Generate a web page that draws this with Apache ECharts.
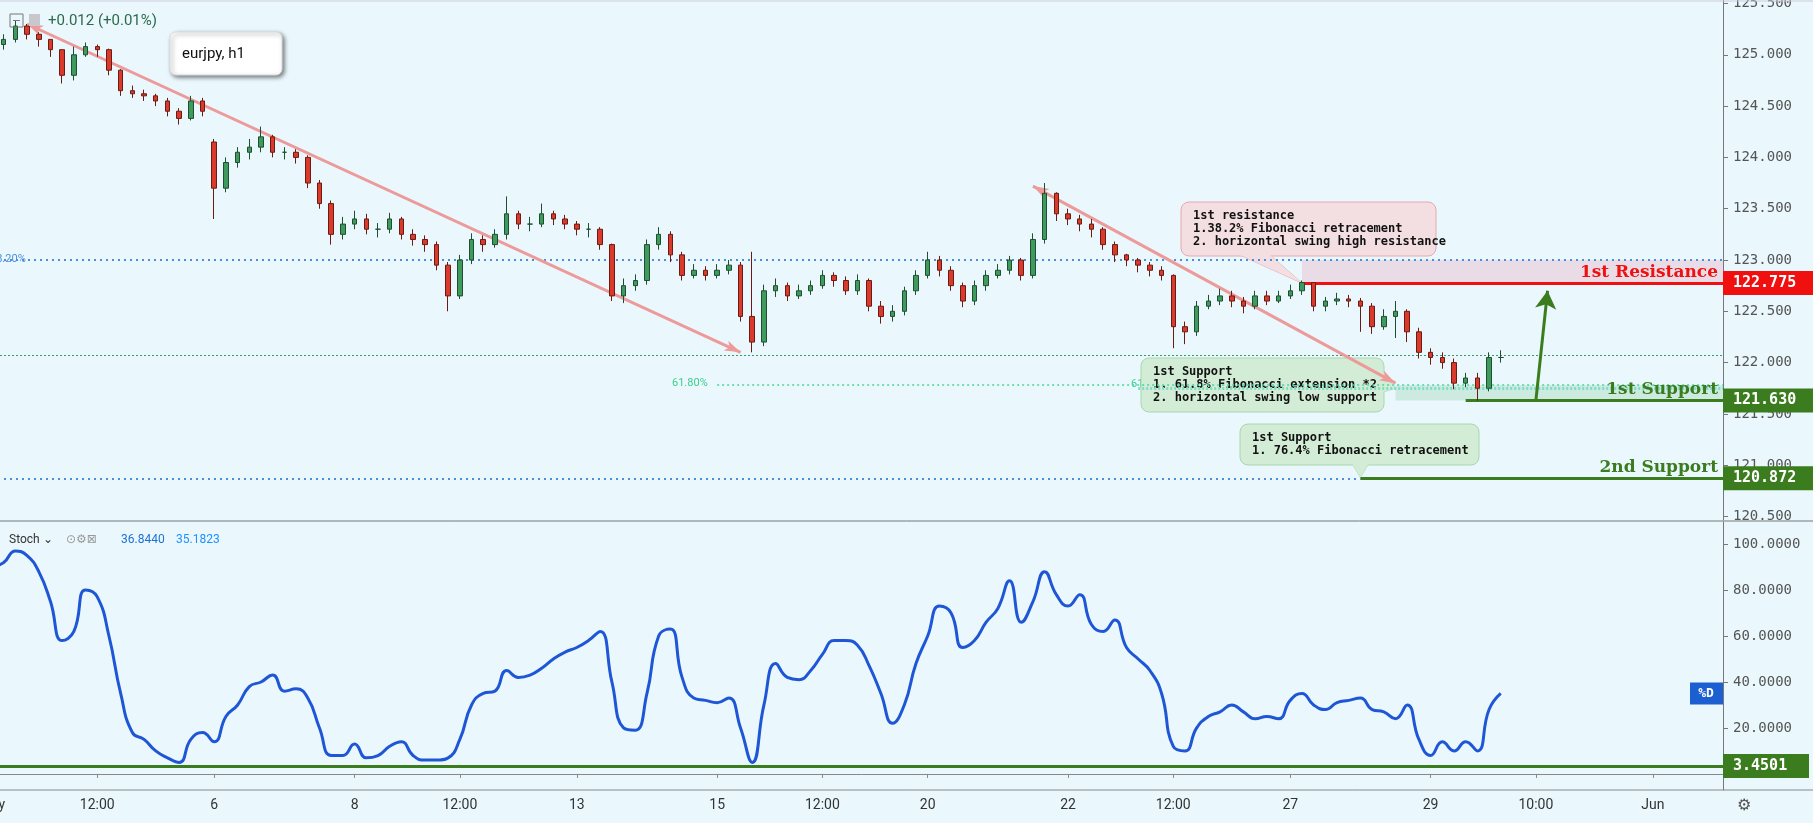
<!DOCTYPE html>
<html><head><meta charset="utf-8">
<script src="https://cdn.jsdelivr.net/npm/echarts@6/dist/echarts.min.js"></script>
<style>html,body{margin:0;padding:0;background:#eaf8fd}#c{width:1813px;height:823px}</style>
</head><body><div id="c"></div>
<script>
const closes=[125.10,125.15,125.28,125.20,125.15,125.05,124.80,125.00,125.08,125.05,124.85,124.65,124.62,124.60,124.55,124.45,124.38,124.55,124.45,123.70,
123.95,124.05,124.10,124.20,124.05,124.05,124.00,123.75,123.55,123.25,123.35,123.40,123.30,123.30,123.40,123.25,123.20,123.15,122.95,122.65,
123.00,123.20,123.15,123.25,123.45,123.35,123.35,123.45,123.40,123.35,123.30,123.30,123.15,122.65,122.75,122.80,123.15,123.25,123.05,122.85,
122.90,122.85,122.90,122.95,122.45,122.20,122.70,122.75,122.65,122.70,122.75,122.85,122.80,122.70,122.80,122.55,122.45,122.50,122.70,122.85,
123.00,122.90,122.75,122.60,122.75,122.85,122.90,123.00,122.85,123.20,123.65,123.45,123.40,123.35,123.30,123.15,123.05,123.00,122.95,122.90,
122.85,122.35,122.30,122.55,122.60,122.65,122.60,122.55,122.65,122.60,122.65,122.70,122.78,122.55,122.60,122.62,122.60,122.55,122.35,122.45,
122.50,122.30,122.10,122.05,122.00,121.80,121.85,121.75,122.05,122.05];
const opens=[125.05].concat(closes.slice(0,-1));
opens[19]=124.15;
const highs=[125.18,125.20,125.33,125.30,125.22,125.15,125.05,125.08,125.12,125.10,125.06,124.86,124.70,124.66,124.62,124.58,124.48,124.60,124.58,124.18,
124.00,124.10,124.18,124.30,124.22,124.10,124.08,124.02,123.78,123.58,123.42,123.48,123.45,123.36,123.46,123.42,123.30,123.24,123.18,122.98,
123.05,123.26,123.24,123.30,123.62,123.48,123.42,123.55,123.48,123.44,123.38,123.36,123.32,123.16,122.82,122.86,123.20,123.32,123.28,123.08,
122.96,122.94,122.96,123.00,122.98,123.08,122.76,122.82,122.78,122.76,122.80,122.90,122.88,122.84,122.86,122.82,122.60,122.56,122.74,122.90,
123.08,123.04,122.94,122.78,122.80,122.90,122.96,123.04,123.02,123.26,123.75,123.66,123.50,123.44,123.40,123.32,123.18,123.06,123.02,122.98,
122.94,122.86,122.40,122.60,122.66,122.72,122.70,122.64,122.70,122.70,122.70,122.76,122.80,122.78,122.64,122.68,122.66,122.63,122.58,122.52,
122.60,122.52,122.34,122.14,122.10,122.04,121.90,121.90,122.10,122.12];
const lows=[125.00,125.05,125.12,125.15,125.08,124.98,124.72,124.75,124.98,124.98,124.80,124.60,124.58,124.55,124.50,124.40,124.32,124.36,124.40,123.40,
123.66,123.90,123.98,124.05,124.00,123.98,123.94,123.70,123.50,123.15,123.20,123.30,123.25,123.22,123.26,123.20,123.14,123.08,122.90,122.50,
122.62,122.96,123.08,123.12,123.20,123.30,123.28,123.32,123.34,123.30,123.24,123.22,123.10,122.60,122.58,122.70,122.76,123.10,122.98,122.80,
122.82,122.80,122.82,122.86,122.40,122.10,122.16,122.64,122.60,122.62,122.66,122.72,122.74,122.66,122.66,122.50,122.38,122.40,122.46,122.66,
122.82,122.84,122.70,122.54,122.56,122.70,122.82,122.86,122.80,122.82,123.16,123.38,123.34,123.28,123.22,123.10,122.98,122.94,122.88,122.84,
122.80,122.14,122.18,122.26,122.52,122.56,122.54,122.48,122.52,122.56,122.58,122.62,122.66,122.50,122.50,122.56,122.54,122.30,122.28,122.32,
122.24,122.20,122.04,121.98,121.94,121.74,121.76,121.63,121.72,122.00];
const stochD=[90,92,97,95,88,75,58,62,80,77,60,35,18,15,10,7,5,15,18,14,
25,30,38,40,43,36,37,33,20,8,8,13,7,8,12,14,8,6,6,7,
15,30,35,36,45,42,43,46,50,53,55,58,62,40,20,19,35,60,63,42,
33,32,31,33,20,5,30,48,42,41,45,52,58,58,56,47,35,22,30,48,
60,73,70,55,58,66,72,84,66,75,88,78,73,78,65,62,67,55,50,45,
35,12,10,20,25,27,30,27,24,25,24,32,35,30,28,31,32,33,28,27,
24,30,15,8,14,10,14,10,28,35];
const tickLabels={0:'May',9:'12:00',19:'6',31:'8',40:'12:00',50:'13',62:'15',71:'12:00',80:'20',92:'22',101:'12:00',111:'27',123:'29',132:'10:00',142:'Jun'};
const priceTicks=[120.5,121.0,121.5,122.0,122.5,123.0,123.5,124.0,124.5,125.0,125.5];
const stochTicks=[20,40,60,80,100];
const N=149;
const cats=[];for(let i=0;i<N;i++)cats.push(tickLabels[i]||'');
const ohlc=closes.map((c,i)=>[opens[i],c,lows[i],highs[i]]);

const ch=echarts.init(document.getElementById('c'));
const mono='DejaVu Sans Mono';
const xa=(gi,show)=>({type:'category',data:cats,gridIndex:gi,boundaryGap:false,
 axisLine:{show:show,lineStyle:{color:'#888'}},axisTick:{show:show,interval:(i,v)=>v!=='',lineStyle:{color:'#888'},inside:false,length:4},
 axisLabel:{show:show,interval:(i,v)=>v!=='',color:'#333',fontSize:14,fontFamily:'Roboto',margin:8},splitLine:{show:false}});
const green='#3b7d1e';
ch.setOption({
 backgroundColor:'#eaf8fd',animation:false,
 grid:[{left:-8,right:90,top:0,height:520,outerBoundsMode:'none',containLabel:false},{left:-8,right:90,top:522,height:268,outerBoundsMode:'none',containLabel:false}],
 xAxis:[xa(0,false),xa(1,true)],
 yAxis:[{type:'value',gridIndex:0,position:'right',min:120.466,max:125.534,
   axisLine:{show:true,lineStyle:{color:'#777'}},axisTick:{show:true,customValues:priceTicks,length:5},
   axisLabel:{customValues:priceTicks,formatter:v=>v.toFixed(3),color:'#555',fontSize:14,fontFamily:mono,margin:10},splitLine:{show:false}},
  {type:'value',gridIndex:1,position:'right',min:-7,max:109.6,
   axisLine:{show:true,lineStyle:{color:'#777'}},axisTick:{show:true,customValues:stochTicks,length:5},
   axisLabel:{customValues:stochTicks,formatter:v=>v.toFixed(4),color:'#555',fontSize:14,fontFamily:mono,margin:10},splitLine:{show:false}}],
 series:[
  {type:'candlestick',xAxisIndex:0,yAxisIndex:0,data:ohlc,barWidth:5,z:5,
   itemStyle:{color:'#3f9a5e',color0:'#d93a2b',borderColor:'#1f4f30',borderColor0:'#6b1b12',borderWidth:1},
   markArea:{silent:true,data:[
     [{coord:[112,123.0],itemStyle:{color:'rgba(232,170,190,0.35)'}},{coord:[148,122.775]}],
     [{coord:[120,121.78],itemStyle:{color:'rgba(150,210,170,0.35)'}},{coord:[148,121.63]}]]},
   markLine:{silent:true,symbol:'none',label:{show:false},data:[
     [{coord:[0,123.0],lineStyle:{color:'#4a8fd8',type:[2,4],width:2}},{coord:[148,123.0]}],
     [{coord:[0,122.07],lineStyle:{color:'#3a9a6a',type:[2,2],width:1}},{coord:[148,122.07]}],
     [{coord:[62,121.78],lineStyle:{color:'#4cd39a',type:[2,3],width:1.5}},{coord:[148,121.78]}],
     [{coord:[98,121.75],lineStyle:{color:'#7fdcc8',type:[2,2],width:3}},{coord:[148,121.75]}],
     [{coord:[0,120.872],lineStyle:{color:'#4a8fd8',type:[2,4],width:2}},{coord:[117,120.872]}],
     [{coord:[117,120.872],lineStyle:{color:green,type:'solid',width:3}},{coord:[148,120.872]}],
     [{coord:[112,122.775],lineStyle:{color:'#f01010',type:'solid',width:3}},{coord:[148,122.775]}],
     [{coord:[126,121.63],lineStyle:{color:green,type:'solid',width:3}},{coord:[148,121.63]}],
     [{coord:[2.5,125.3],symbol:'arrow',lineStyle:{color:'#ec9a9a',type:'solid',width:3}},{coord:[63.5,122.1],symbol:'arrow'}],
     [{coord:[89,123.72],symbol:'arrow',lineStyle:{color:'#ec9a9a',type:'solid',width:3}},{coord:[120,121.8],symbol:'arrow'}],
     [{coord:[132,121.63],lineStyle:{color:'#3b7d1e',type:'solid',width:3}},{coord:[133.4,122.7],symbol:'arrow',symbolSize:[16,18]}]
   ]}},
  {type:'line',xAxisIndex:1,yAxisIndex:1,data:stochD,smooth:0.5,showSymbol:false,lineStyle:{color:'#1e56d6',width:3},
   markLine:{silent:true,symbol:'none',label:{show:false},data:[{yAxis:3.4501,lineStyle:{color:green,type:'solid',width:3}}]}}
 ]});

const P=(i,v)=>ch.convertToPixel({xAxisIndex:0,yAxisIndex:0},[i,v]);
const Q=(i,v)=>ch.convertToPixel({xAxisIndex:1,yAxisIndex:1},[i,v]);
const g=[];
const serif='DejaVu Serif';
function tag(y,txt,col,w){g.push({type:'rect',shape:{x:1723,y:y-12,width:w||90,height:24},style:{fill:col},z:50});
 g.push({type:'text',x:1733,y:y,style:{text:txt,fill:'#fff',font:'bold 15px '+mono,textVerticalAlign:'middle'},z:51});}
tag(P(0,122.775)[1],'122.775','#f01010');
tag(P(0,121.63)[1],'121.630',green);
tag(P(0,120.872)[1],'120.872',green);
tag(Q(0,3.4501)[1],'3.4501',green,86);
g.push({type:'rect',shape:{x:1690,y:Q(0,35)[1]-11,width:33,height:22},style:{fill:'#1b5fd1'},z:50});
g.push({type:'text',x:1706,y:Q(0,35)[1],style:{text:'%D',fill:'#fff',font:'bold 13px '+mono,textAlign:'center',textVerticalAlign:'middle'},z:51});
function lvl(v,txt,col){g.push({type:'text',x:1718,y:P(0,v)[1]-2,style:{text:txt,fill:col,font:'bold 17px '+serif,textAlign:'right',textVerticalAlign:'bottom'},z:40});}
lvl(122.775,'1st Resistance','#f01010');lvl(121.63,'1st Support',green);lvl(120.872,'2nd Support',green);
g.push({type:'line',shape:{x1:0,y1:521,x2:1813,y2:521},style:{stroke:'#777',lineWidth:1},z:30});
g.push({type:'line',shape:{x1:0,y1:790,x2:1813,y2:790},style:{stroke:'#888',lineWidth:1},z:30});
g.push({type:'line',shape:{x1:0,y1:1,x2:1813,y2:1},style:{stroke:'#ccd',lineWidth:1},z:30});
function box(x,y,w,h,fill,stroke,lines,tail){
 g.push({type:'polygon',shape:{points:tail},style:{fill:fill,stroke:stroke,lineWidth:1},z:1});
 g.push({type:'rect',shape:{x:x,y:y,width:w,height:h,r:8},style:{fill:fill,stroke:stroke,lineWidth:1},z:1});
 g.push({type:'polygon',shape:{points:tail},style:{fill:fill},z:1});
 lines.forEach((t,k)=>g.push({type:'text',x:x+12,y:y+14+k*13,style:{text:t,fill:'#111',font:'bold 12px '+mono,textVerticalAlign:'middle'},z:1}));
}
const rp=P(112,122.775);
box(1181,202,255,54,'#f3dfe2','#e7a8b0',['1st resistance','1.38.2% Fibonacci retracement','2. horizontal swing high resistance'],[[1240,255],[1270,255],[rp[0],rp[1]]]);
box(1141,358,243,54,'#d3ecd6','#a9d6ae',['1st Support','1. 61.8% Fibonacci extension *2','2. horizontal swing low support'],[[1383,372],[1383,392],[P(120,121.75)[0],P(120,121.75)[1]]]);
const sp=P(117,120.872);
box(1240,424,239,41,'#d3ecd6','#a9d6ae',['1st Support','1. 76.4% Fibonacci retracement'],[[sp[0]-8,464],[sp[0]+8,464],[sp[0],sp[1]-1]]);
g.push({type:'text',x:672,y:383,style:{text:'61.80%',fill:'#3ccf8e',font:'11px Roboto',textVerticalAlign:'middle'},z:20});
g.push({type:'text',x:1131,y:384,style:{text:'61.80%',fill:'#3ccf8e',font:'11px Roboto',textVerticalAlign:'middle'},z:0});
g.push({type:'text',x:-10,y:P(0,123)[1]-1,style:{text:'38.20%',fill:'#4a8fd8',font:'11px Roboto',textVerticalAlign:'middle'},z:20});
g.push({type:'rect',shape:{x:170,y:32,width:112,height:43,r:6},style:{fill:'#fff',stroke:'#ddd',shadowBlur:4,shadowOffsetX:2,shadowOffsetY:2,shadowColor:'rgba(0,0,0,0.5)'},z:45});
g.push({type:'text',x:182,y:54,style:{text:'eurjpy, h1',fill:'#111',font:'15px Roboto',textVerticalAlign:'middle'},z:46});
g.push({type:'rect',shape:{x:10,y:14,width:13,height:13},style:{fill:'none',stroke:'#777',lineWidth:1},z:46});
g.push({type:'line',shape:{x1:13,y1:20.5,x2:20,y2:20.5},style:{stroke:'#777'},z:46});
g.push({type:'rect',shape:{x:29,y:14,width:11,height:12},style:{fill:'#c8c8cc'},z:46});
g.push({type:'text',x:48,y:21,style:{text:'+0.012 (+0.01%)',fill:'#2c6a49',font:'15px Roboto',textVerticalAlign:'middle'},z:46});
g.push({type:'text',x:9,y:540,style:{text:'Stoch ⌄',fill:'#333',font:'12px Roboto',textVerticalAlign:'middle'},z:46});
g.push({type:'text',x:66,y:540,style:{text:'⊙⚙⊠',fill:'#999',font:'12px DejaVu Sans',textVerticalAlign:'middle'},z:46});
g.push({type:'text',x:121,y:540,style:{text:'36.8440',fill:'#1e6fd6',font:'12px Roboto',textVerticalAlign:'middle'},z:46});
g.push({type:'text',x:176,y:540,style:{text:'35.1823',fill:'#1e90ff',font:'12px Roboto',textVerticalAlign:'middle'},z:46});
g.push({type:'text',x:1737,y:806,style:{text:'⚙',fill:'#555',font:'16px DejaVu Sans',textVerticalAlign:'middle'},z:46});
ch.setOption({graphic:g});
</script></body></html>
